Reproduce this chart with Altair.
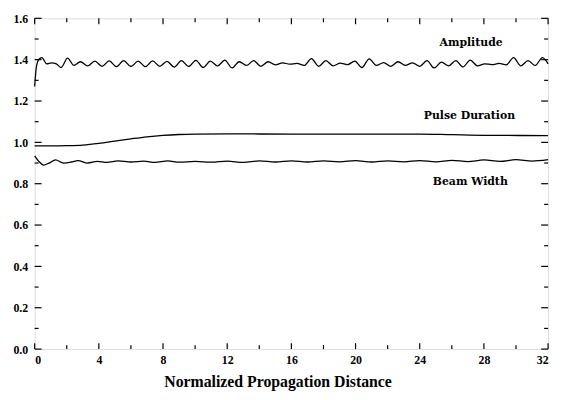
import altair as alt
import pandas as pd

# ---- data ----
amp_x = [0, 0.1, 0.25, 0.45, 0.75, 1.05, 1.35, 1.65, 2.05, 2.45, 2.85, 3.3, 3.75, 4.2, 4.65,
         5.1, 5.55, 6.0, 6.45, 6.9, 7.35, 7.8, 8.25, 8.7, 9.15, 9.6, 10.05, 10.5, 10.95, 11.4,
         11.85, 12.3, 12.75, 13.2, 13.65, 14.1, 14.55, 15.0, 15.45, 15.9, 16.35, 16.8, 17.25,
         17.7, 18.15, 18.6, 19.05, 19.5, 19.95, 20.4, 20.85, 21.3, 21.75, 22.2, 22.65, 23.1,
         23.55, 24.0, 24.45, 24.9, 25.35, 25.8, 26.25, 26.7, 27.15, 27.6, 28.05, 28.5, 28.95,
         29.4, 29.85, 30.3, 30.75, 31.2, 31.65, 32.0]
amp_y = [1.27, 1.36, 1.40, 1.41, 1.38, 1.385, 1.38, 1.362, 1.408, 1.372, 1.39, 1.37, 1.393,
         1.368, 1.394, 1.366, 1.395, 1.367, 1.393, 1.366, 1.394, 1.368, 1.392, 1.364, 1.395,
         1.367, 1.397, 1.362, 1.393, 1.37, 1.398, 1.36, 1.39, 1.372, 1.395, 1.368, 1.39, 1.375,
         1.385, 1.378, 1.382, 1.372, 1.405, 1.368, 1.395, 1.37, 1.383, 1.376, 1.393, 1.362,
         1.404, 1.372, 1.386, 1.368, 1.39, 1.372, 1.385, 1.368, 1.395, 1.36, 1.388, 1.37, 1.395,
         1.365, 1.398, 1.37, 1.38, 1.376, 1.382, 1.375, 1.41, 1.37, 1.395, 1.372, 1.41, 1.38]

pulse_x = [0, 1, 2, 3, 4, 5, 6, 7, 8, 9, 10, 12, 16, 20, 24, 26, 28, 32]
pulse_y = [0.983, 0.983, 0.984, 0.987, 0.995, 1.006, 1.017, 1.027, 1.034, 1.038, 1.040,
           1.041, 1.040, 1.040, 1.040, 1.037, 1.034, 1.033]

beam_x = [0, 0.3, 0.55, 0.9, 1.3, 1.8, 2.3, 2.7, 3.3, 3.9, 4.5, 5.2, 6.0, 6.8, 7.5, 8.3, 9.0,
          10, 11, 12, 13, 14, 15, 16, 17, 18, 19, 20, 21, 22, 23, 24, 25, 26, 27, 28, 29, 30,
          31, 32]
beam_y = [0.935, 0.905, 0.89, 0.90, 0.915, 0.90, 0.905, 0.912, 0.90, 0.908, 0.903, 0.91,
          0.905, 0.909, 0.903, 0.91, 0.904, 0.908, 0.904, 0.909, 0.903, 0.91, 0.905, 0.91,
          0.905, 0.91, 0.906, 0.912, 0.905, 0.91, 0.906, 0.912, 0.906, 0.913, 0.907, 0.915,
          0.908, 0.916, 0.909, 0.916]

label_text = ["Amplitude", "Pulse Duration", "Beam Width"]
label_x = [27.2, 27.1, 27.15]
label_y = [1.482, 1.127, 0.808]

x_major = [0, 4, 8, 12, 16, 20, 24, 28, 32]
x_minor = [2, 6, 10, 14, 18, 22, 26, 30]
y_major = [0.0, 0.2, 0.4, 0.6, 0.8, 1.0, 1.2, 1.4, 1.6]
y_minor = [0.1, 0.3, 0.5, 0.7, 0.9, 1.1, 1.3, 1.5]

W, H = 520, 335
FONT = "Liberation Serif"
LFONT = "DejaVu Serif"

df = pd.concat([
    pd.DataFrame({"x": amp_x, "y": amp_y, "s": "Amplitude"}),
    pd.DataFrame({"x": pulse_x, "y": pulse_y, "s": "Pulse Duration"}),
    pd.DataFrame({"x": beam_x, "y": beam_y, "s": "Beam Width"}),
])

xs = alt.Scale(domain=[0, 32], nice=False, zero=False)
ys = alt.Scale(domain=[0, 1.6], nice=False, zero=False)

lines = alt.Chart(df).mark_line(color="black", strokeWidth=1.3, interpolate="monotone").encode(
    x=alt.X("x:Q", scale=xs,
            axis=alt.Axis(values=x_major, ticks=False, domain=False, grid=False,
                          labelFont=FONT, labelFontWeight="bold", labelFontSize=12,
                          labelColor="black", labelPadding=6,
                          title="Normalized Propagation Distance", titleFont=FONT,
                          titleFontSize=16, titleFontWeight="bold", titleColor="black",
                          titlePadding=8, titleX=246)),
    y=alt.Y("y:Q", scale=ys,
            axis=alt.Axis(values=y_major, format=".1f", ticks=False, domain=False, grid=False,
                          labelFont=FONT, labelFontWeight="bold", labelFontSize=12,
                          labelColor="black", labelPadding=7, title=None)),
    detail="s:N",
)

labels = alt.Chart(pd.DataFrame({"t": label_text, "x": label_x, "y": label_y})).mark_text(
    font=LFONT, fontWeight="bold", fontSize=11, color="black"
).encode(x=alt.X("x:Q", scale=xs), y=alt.Y("y:Q", scale=ys), text="t:N")

def xticks(vals, ln):
    d = pd.DataFrame({"x": vals})
    bot = alt.Chart(d).mark_rule(color="black", strokeWidth=1.2).encode(
        x=alt.X("x:Q", scale=xs), y=alt.value(H), y2=alt.value(H - ln))
    top = alt.Chart(d).mark_rule(color="black", strokeWidth=1.2).encode(
        x=alt.X("x:Q", scale=xs), y=alt.value(0), y2=alt.value(ln))
    return bot + top

def yticks(vals, ln):
    d = pd.DataFrame({"y": vals})
    left = alt.Chart(d).mark_rule(color="black", strokeWidth=1.2).encode(
        y=alt.Y("y:Q", scale=ys), x=alt.value(0), x2=alt.value(ln))
    right = alt.Chart(d).mark_rule(color="black", strokeWidth=1.2).encode(
        y=alt.Y("y:Q", scale=ys), x=alt.value(W), x2=alt.value(W - ln))
    return left + right

chart = alt.layer(
    lines, labels,
    xticks(x_major, 6), xticks(x_minor, 4),
    yticks(y_major, 7), yticks(y_minor, 4),
).properties(
    width=W, height=H,
    autosize=alt.AutoSizeParams(type="none"),
    padding={"left": 27, "top": 8, "right": 7, "bottom": 41},
).configure_view(stroke="black", strokeWidth=1.6).configure(background="white")

chart.save("out.html", embed_options={"renderer": "svg", "actions": False})
